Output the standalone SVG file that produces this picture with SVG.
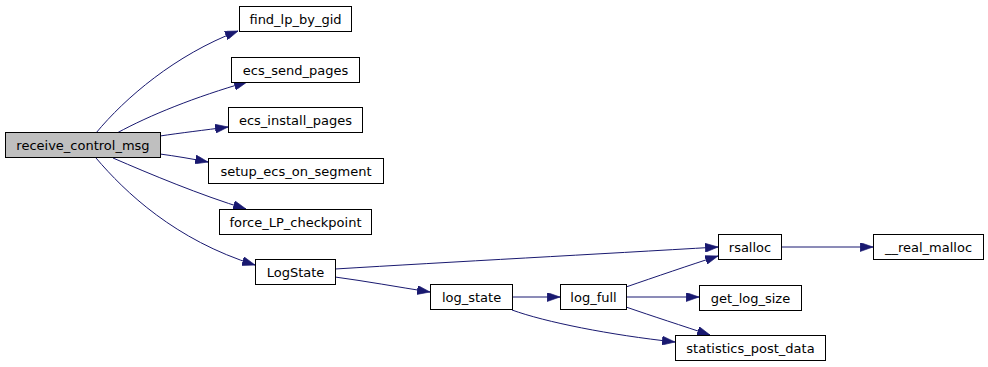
<svg xmlns="http://www.w3.org/2000/svg" width="988" height="367" viewBox="0 0 988 367">
  <style>
    .node rect { fill: #ffffff; stroke: #000000; stroke-width: 1; }
    .node.root rect { fill: #bfbfbf; }
    .node text { font-family: "DejaVu Sans", "Liberation Sans", sans-serif; font-size: 13px; fill: #000000; text-anchor: middle; }
    .edges path { fill: none; stroke: #191970; stroke-width: 1; marker-end: url(#arrow); }
  </style>
  <defs>
    <marker id="arrow" viewBox="0 0 10 7" refX="10" refY="3.5" markerWidth="13" markerHeight="9" markerUnits="userSpaceOnUse" orient="auto">
      <path d="M0,0 L10,3.5 L0,7 z" fill="#191970" stroke="#191970" stroke-width="0.5"/>
    </marker>
  </defs>
  <rect width="988" height="367" fill="#ffffff"/>

  <g class="edges">
    <path d="M96,133 C125,98 175,55 238,31"/>
    <path d="M117,133 C150,115 195,97 247,82"/>
    <path d="M160,136 C180,133 205,130 228,127"/>
    <path d="M160,154 C175,156 193,159 208,162"/>
    <path d="M113,158 C150,174 200,195 246,209"/>
    <path d="M96,158 C125,192 175,240 255,265"/>
    <path d="M335,269 C450,262 600,254 718,247"/>
    <path d="M335,277 C365,281 398,287 430,292"/>
    <path d="M512,297 L560,297"/>
    <path d="M512,310 C545,322 610,335 675,342"/>
    <path d="M626,287 C655,277 690,265 718,256"/>
    <path d="M626,297 L699,297"/>
    <path d="M626,307 C652,316 683,326 710,335"/>
    <path d="M781,247 L873,247"/>
  </g>

  <g id="receive_control_msg" class="node root">
    <rect x="5.5" y="132.5" width="155" height="25"/>
    <text x="83" y="149.5">receive_control_msg</text>
  </g>
  <g id="find_lp_by_gid" class="node">
    <rect x="239.5" y="6.5" width="112" height="25"/>
    <text x="295.5" y="23.5">find_lp_by_gid</text>
  </g>
  <g id="ecs_send_pages" class="node">
    <rect x="231.5" y="57.5" width="128" height="25"/>
    <text x="295.5" y="74.5">ecs_send_pages</text>
  </g>
  <g id="ecs_install_pages" class="node">
    <rect x="228.5" y="107.5" width="134" height="25"/>
    <text x="295.5" y="124.5">ecs_install_pages</text>
  </g>
  <g id="setup_ecs_on_segment" class="node">
    <rect x="208.5" y="158.5" width="175" height="25"/>
    <text x="296" y="175.5">setup_ecs_on_segment</text>
  </g>
  <g id="force_LP_checkpoint" class="node">
    <rect x="219.5" y="209.5" width="152" height="25"/>
    <text x="295.5" y="226.5">force_LP_checkpoint</text>
  </g>
  <g id="LogState" class="node">
    <rect x="255.5" y="259.5" width="80" height="25"/>
    <text x="295.5" y="276.5">LogState</text>
  </g>
  <g id="log_state" class="node">
    <rect x="430.5" y="284.5" width="82" height="25"/>
    <text x="471.5" y="301.5">log_state</text>
  </g>
  <g id="log_full" class="node">
    <rect x="560.5" y="284.5" width="66" height="25"/>
    <text x="593.5" y="301.5">log_full</text>
  </g>
  <g id="rsalloc" class="node">
    <rect x="718.5" y="234.5" width="63" height="25"/>
    <text x="750" y="251.5">rsalloc</text>
  </g>
  <g id="__real_malloc" class="node">
    <rect x="873.5" y="234.5" width="110" height="25"/>
    <text x="928.5" y="251.5">__real_malloc</text>
  </g>
  <g id="get_log_size" class="node">
    <rect x="699.5" y="285.5" width="102" height="25"/>
    <text x="750.5" y="302.5">get_log_size</text>
  </g>
  <g id="statistics_post_data" class="node">
    <rect x="675.5" y="335.5" width="150" height="25"/>
    <text x="750.5" y="352.5">statistics_post_data</text>
  </g>
</svg>
